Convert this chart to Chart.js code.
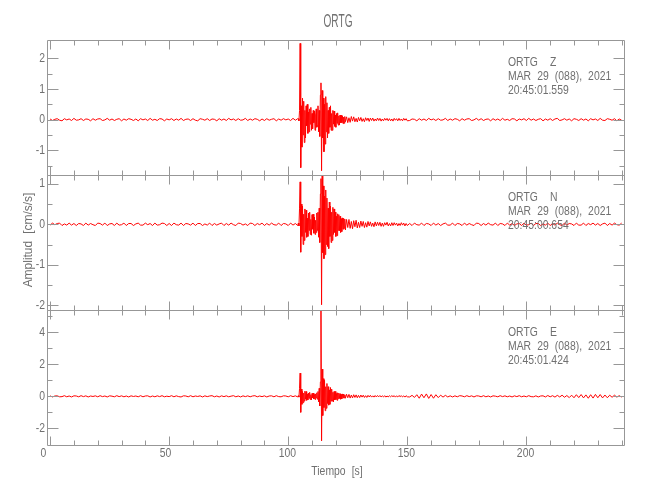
<!DOCTYPE html>
<html><head><meta charset="utf-8">
<script src="https://cdn.jsdelivr.net/npm/chart.js@4.4.1/dist/chart.umd.min.js"></script>
<style>
html,body{margin:0;padding:0;background:#fff;}
#wrap{position:relative;width:650px;height:500px;overflow:hidden;}
#wrap canvas{position:absolute;left:0;top:0;}
</style></head><body>
<div id="wrap">
<canvas id="cz" width="650" height="500"></canvas>
<canvas id="cn" width="650" height="500"></canvas>
<canvas id="ce" width="650" height="500"></canvas>
</div>
<script>
// ---- sampling grid (seconds): [start, end, step] ----
const timeSegments = [[0,104,1],[104.25,124,0.25],[124.5,150,0.5],[151,240,1]];

// ---- tick values ----
const xTicks = [0,10,20,30,40,50,60,70,80,90,100,110,120,130,140,150,160,170,180,190,200,210,220,230,240];
const xLabels = [0,50,100,150,200];
const zTicks = [-1.5,-1,-0.5,0,0.5,1,1.5,2];
const zLabels = [-1,0,1,2];
const nTicks = [-2,-1.5,-1,-0.5,0,0.5,1];
const nLabels = [-2,-1,0,1];
const eTicks = [-2,-1,0,1,2,3,4,5];
const eLabels = [-2,0,2,4];

// ---- station annotations ----
const zNote = ["ORTG  Z","MAR 29 (088), 2021","20:45:01.559"];
const nNote = ["ORTG  N","MAR 29 (088), 2021","20:45:00.654"];
const eNote = ["ORTG  E","MAR 29 (088), 2021","20:45:01.424"];

// ---- Z component (cm/s/s) ----
const zPre = [.02,-.03,.01,.03,-.02,-.04,.03,-.01,.02,-.03,
.04,-.02,-.01,.03,-.03,.02,.01,-.04,.03,-.02,
.02,.03,-.03,-.01,.04,-.02,.02,-.03,.01,.03,
-.04,.02,-.02,.03,.01,-.03,.02,-.04,.03,-.01,
.02,-.03,.04,-.02,.01,-.03,.03,.02,-.04,.02,
-.01,.03,-.03,.02,-.02,.04,-.03,.01,.02,-.03,
.03,-.02,-.04,.03,.01,-.02,.03,-.03,.02,.01,
-.04,.03,-.02,.02,-.03,.04,-.01,.02,-.03,.03,
-.02,-.01,.04,-.03,.02,-.02,.03,.01,-.04,.02,
-.03,.03,-.02,.01,.03,-.04,.02,-.02,.03,-.01,
.02,-.03,.04,-.02,.03];
const zEvt = [.03,-.04,.3,2.49,
-1.57,.45,-.9,.7,
-.5,.6,-.75,.3,
-.6,.45,-.2,.5,
-.45,.25,-.4,.35,
-.15,.4,-.35,.2,
-.3,.3,-.1,.28,
-.35,.15,.35,-.25,
-.2,.45,-.4,.3,
-.55,.8,1.2,-1.67,
.95,-.6,.7,-1.05,
.5,-.8,.75,-.4,
.55,-.6,.3,-.45,
.4,-.25,.45,-.35,
.2,-.35,.3,-.15,
.28,-.22,.15,-.25,
.2,-.12,.22,-.18,
.12,-.18,.15,-.1,
.14,-.1,.12,-.13,
.08,-.12,.1,-.07];
const zCoda = [.09,-.1,.06,-.09,.1,-.05,.09,-.07,.04,-.08,
.07,-.04,.07,-.06,.03,-.07,.06,-.03,.05,-.06,
.05,-.03,.05,-.05,.02,-.04,.05,-.03,.04,-.05,
.02,-.04,.04,-.02,.04,-.04,.03,-.04,.02,-.05,
.04,-.02,.03,-.04,.04,-.03,.02,-.04,.04,-.02,
.03,-.04];
const zPost = [-.03,.02,.01,-.04,.03,-.02,.02,-.03,.04,-.01,
.02,-.03,.03,-.02,-.01,.04,-.03,.02,-.02,.03,
.01,-.04,.03,-.02,.02,.03,-.03,-.01,.04,-.02,
.03,-.03,.01,.02,-.04,.03,-.02,.02,-.03,.04,
-.02,.01,-.03,.03,.02,-.04,.02,-.01,.03,-.03,
.04,-.02,.02,-.03,.01,.03,-.04,.02,-.02,.03,
-.03,.02,.04,-.03,-.01,.03,-.02,.02,-.04,.03,
.01,-.03,.03,-.02,.02,-.04,.03,-.01,.02,-.03,
.04,-.02,-.03,.03,.01,-.02,.03,-.04,.02,-.02];

// ---- N component ----
const nPre = [-.02,.03,-.01,.02,.03,-.03,.01,-.02,.03,-.02,
.02,-.03,.02,.01,-.03,.03,-.02,.02,-.01,-.03,
.03,.02,-.02,.03,-.03,.01,.02,-.03,.03,-.02,
-.01,.03,-.03,.02,.02,-.03,.01,.03,-.02,-.02,
.03,-.01,.02,-.03,.03,-.02,-.01,.03,.02,-.03,
.02,-.03,.03,-.01,-.02,.03,-.03,.02,.01,-.02,
.03,-.03,.02,.02,-.03,.01,-.02,.03,-.03,.02,
-.02,.01,.03,-.03,.02,-.02,.03,-.01,-.03,.03,
.02,-.02,.01,-.03,.03,.02,-.03,.02,-.01,.03,
-.03,.02,-.02,.03,-.01,-.02,.03,-.03,.02,.01,
-.03,.03,-.02,.02,-.03];
const nEvt = [.03,-.04,.4,1.05,
-.69,.5,-.3,.45,
-.5,.25,-.4,.38,
-.2,.35,-.32,.15,
-.3,.28,-.15,.3,
-.25,.12,-.27,.24,
-.12,.25,-.22,.18,
-.25,.1,-.2,.28,
-.15,.3,-.32,.4,
-.45,.75,1.13,-1.99,
1.2,-.7,.95,-.85,
.7,-.75,.85,-.5,
.65,-.55,.4,-.6,
.55,-.3,.45,-.45,
.3,-.4,.42,-.25,
.38,-.2,.3,-.3,
.2,-.28,.26,-.15,
.24,-.16,.2,-.2,
.14,-.18,.16,-.12,
.15,-.1,.13,-.14];
const nCoda = [.12,-.08,.12,-.1,.07,-.11,.09,-.06,.1,-.09,
.05,-.08,.08,-.05,.07,-.08,.04,-.07,.07,-.04,
.06,-.05,.03,-.06,.06,-.04,.05,-.03,.05,-.05,
.03,-.05,.04,-.02,.05,-.04,.02,-.04,.04,-.03,
.04,-.02,.03,-.04,.02,-.03,.04,-.02,.03,-.04,
.02,-.03];
const nPost = [.02,-.03,.03,-.01,-.02,.03,-.03,.02,.01,-.03,
.03,-.02,.02,-.03,.01,.03,-.02,-.02,.03,-.03,
.02,.01,-.03,.03,-.02,.02,-.01,-.03,.03,.02,
-.03,.02,-.02,.03,-.01,-.02,.03,-.03,.02,.01,
-.03,.03,-.02,.02,-.03,.01,.02,-.03,.03,-.02,
-.01,.03,-.03,.02,.02,-.03,.01,-.02,.03,-.03,
.02,-.02,.03,-.01,-.03,.03,-.02,.02,.01,-.03,
.03,-.02,-.02,.03,-.03,.02,-.01,.03,-.02,.02,
-.03,.01,.03,-.03,.02,-.02,.03,-.01,-.02,.03];

// ---- E component ----
const ePre = [.03,-.04,.02,.03,-.03,-.02,.04,-.03,.02,-.04,
.03,.02,-.03,.04,-.02,.03,-.04,.02,-.01,.03,
-.03,.04,-.02,.02,-.04,.03,.01,-.03,.04,-.02,
.03,-.03,.02,-.04,.03,-.01,.02,-.03,.04,-.03,
.02,.03,-.04,.02,-.03,.03,-.02,.04,-.03,.01,
-.02,.04,-.03,.03,-.02,-.04,.03,.02,-.03,.04,
-.03,.02,-.01,.03,-.04,.03,-.02,.02,.04,-.03,
.02,-.04,.03,-.02,.03,-.03,.01,.04,-.03,.02,
-.04,.03,-.02,.03,-.03,.02,.04,-.03,.02,-.02,
.03,-.04,.02,.03,-.03,.04,-.02,-.03,.03,.02,
-.03,.04,-.02,.03,-.04];
const eEvt = [.04,-.05,.5,1.45,
-1.0,.45,-.5,.3,
-.4,.2,-.3,.32,
-.18,.3,-.25,.15,
-.22,.2,-.12,.25,
-.2,.1,-.22,.18,
-.1,.2,-.17,.12,
-.2,.15,-.1,.22,
-.18,.3,-.35,.5,
-.6,.9,5.6,-2.78,
1.7,-1.2,1.1,-.7,
1.0,-.9,.6,-.75,
.8,-.45,.6,-.55,
.4,-.5,.55,-.3,
.45,-.3,.25,-.35,
.3,-.22,.3,-.2,
.18,-.25,.22,-.15,
.2,-.14,.16,-.18,
.12,-.16,.15,-.1,
.14,-.1,.1,-.12];
const eCoda = [.13,-.09,.12,-.11,.08,-.1,.1,-.07,.09,-.09,
.06,-.08,.08,-.05,.07,-.07,.04,-.07,.06,-.04,
.06,-.05,.03,-.05,.05,-.04,.05,-.03,.05,-.04,
.03,-.04,.04,-.05,.02,-.04,.04,-.03,.04,-.02,
.04,-.05,.03,-.04,.05,-.02,.04,-.04,.03,-.05,
.04,-.03];
const ePost = [-.04,.06,-.07,.1,-.12,.14,-.09,.15,-.13,.11,
-.12,.1,-.08,.07,-.05,.06,-.04,.03,-.04,.03,
-.03,.04,.02,-.03,.04,-.02,.03,-.04,.03,.02,
-.03,.04,-.03,.02,-.04,.03,.01,-.03,.04,-.02,
.03,-.03,.02,-.04,.03,-.02,.04,-.03,.02,-.03,
.04,-.02,-.03,.03,-.04,.02,.03,-.04,.05,-.03,
.04,-.05,.06,-.04,.07,-.06,.05,-.08,.07,-.09,
.1,-.08,.11,-.1,.09,-.12,.1,-.11,.12,-.09,
.11,-.1,.08,-.09,.07,-.06,.07,-.05,.04,-.05];

// ---- build ----
const times = [];
for (const [a,b,s] of timeSegments) {
  const n = Math.round((b-a)/s);
  for (let i=0;i<=n;i++) times.push(+(a+i*s).toFixed(2));
}
const zVals = [...zPre,...zEvt,...zCoda,...zPost];
const nVals = [...nPre,...nEvt,...nCoda,...nPost];
const eVals = [...ePre,...eEvt,...eCoda,...ePost];

const FAM = '"Liberation Sans", Arial, sans-serif';
const TEXT = '#707070';
const FRAME = '#979797';
const RED = '#ff0000';

function drawText(ctx, str, x, y, size, sx, align, rot) {
  ctx.save();
  ctx.font = size + 'px ' + FAM;
  try { ctx.wordSpacing = '4px'; } catch (e) {}
  ctx.textAlign = align; ctx.textBaseline = 'middle';
  ctx.translate(x, y);
  if (rot) ctx.rotate(rot);
  ctx.scale(sx, 1);
  ctx.fillText(str, 0, 0);
  ctx.restore();
}

const framePlugin = {
  id: 'seisFrame',
  afterDraw(chart, args, o) {
    const ctx = chart.ctx, a = chart.chartArea, xs = chart.scales.x, ys = chart.scales.y;
    const L = Math.round(a.left)+0.5, R = Math.round(a.right)+0.5, T = Math.round(a.top)+0.5, B = Math.round(a.bottom)+0.5;
    ctx.save();
    ctx.strokeStyle = FRAME; ctx.lineWidth = 1;
    ctx.beginPath();
    ctx.rect(L, T, R-L, B-T);
    for (const v of o.yTicks) {
      const p = Math.round(ys.getPixelForValue(v))+0.5;
      const len = o.yLabels.includes(v) ? 11 : 5;
      ctx.moveTo(L,p); ctx.lineTo(L+len,p);
      ctx.moveTo(R,p); ctx.lineTo(R-len,p);
    }
    for (const v of xTicks) {
      const p = Math.round(xs.getPixelForValue(v))+0.5;
      const len = xLabels.includes(v) ? 9 : 5;
      ctx.moveTo(p,T); ctx.lineTo(p,T+len);
      ctx.moveTo(p,B); ctx.lineTo(p,B-len);
    }
    ctx.stroke();
    ctx.fillStyle = TEXT;
    for (const v of o.yLabels) drawText(ctx, String(v), 45, ys.getPixelForValue(v), 13, 0.8, 'right');
    o.note.forEach((s,i) => drawText(ctx, s, 508, a.top + 22 + i*14.3, 13, 0.8, 'left'));
    if (o.title) drawText(ctx, o.title, 338, 22, 18, 0.56, 'center');
    if (o.yTitle) drawText(ctx, o.yTitle, 28, 240, 13, 0.92, 'center', -Math.PI/2);
    if (o.xTitle) {
      for (const v of xLabels) drawText(ctx, String(v), xs.getPixelForValue(v) - 9.5, a.bottom + 8.5, 13, 0.8, 'left');
      drawText(ctx, o.xTitle, 337, 471, 13, 0.8, 'center');
    }
    ctx.restore();
  }
};

function makeChart(id, vals, yMin, yMax, yTicks, yLabels, top, bottom, extra) {
  return new Chart(document.getElementById(id), {
    type: 'line',
    data: { datasets: [{
      data: times.map((t,i) => ({x: t, y: vals[i]})),
      borderColor: RED, borderWidth: 1, pointRadius: 0, tension: 0, fill: false
    }]},
    options: {
      responsive: false, animation: false, events: [],
      layout: { padding: { left: 0, right: 26, top: top, bottom: 500 - bottom } },
      plugins: { legend: {display:false}, tooltip: {enabled:false}, title: {display:false},
        seisFrame: Object.assign({ yTicks, yLabels }, extra) },
      scales: {
        x: { type: 'linear', min: -1.3, max: 241, display: false },
        y: { type: 'linear', min: yMin, max: yMax,
          afterFit: s => { s.width = 47; },
          afterBuildTicks: s => { s.ticks = yTicks.map(v => ({value: v})); },
          grid: {display:false}, border: {display:false},
          ticks: { display: false } }
      }
    },
    plugins: [framePlugin]
  });
}

makeChart('cz', zVals, -1.81, 2.6, zTicks, zLabels, 40, 175, { note: zNote, title: 'ORTG' });
makeChart('cn', nVals, -2.12, 1.22, nTicks, nLabels, 175, 310, { note: nNote, yTitle: 'Amplitud [cm/s/s]' });
makeChart('ce', eVals, -3.04, 5.39, eTicks, eLabels, 310, 445, { note: eNote, xTitle: 'Tiempo [s]' });
</script>
</body></html>
